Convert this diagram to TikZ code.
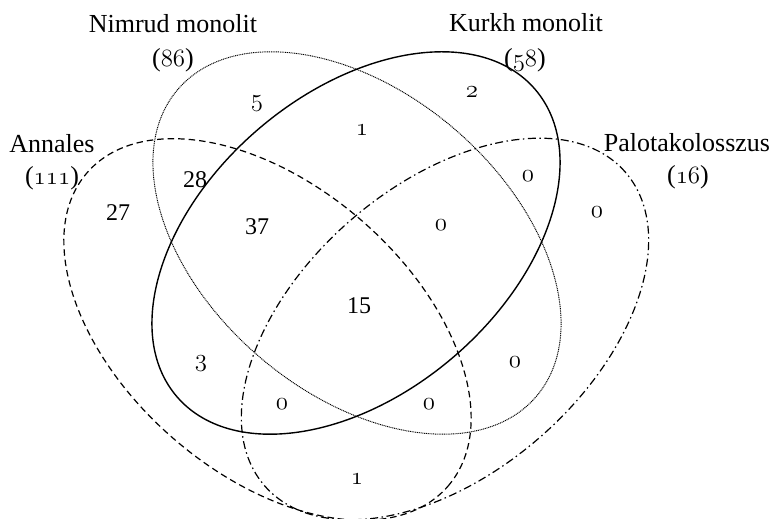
\documentclass[tikz,border=0pt]{standalone}
\usepackage{fontspec}
\setmainfont{Liberation Serif}
% old-style figures taken from the Latin Modern math italic font, slightly enlarged
\newcommand\osf[1]{{\fontsize{1.15\dimexpr\csname f@size\endcsname pt\relax}{10}\usefont{OML}{lmm}{m}{it}#1}}
\newcommand\osfb[1]{{\fontsize{1.1\dimexpr\csname f@size\endcsname pt\relax}{10}\usefont{OML}{lmm}{b}{it}#1}}
\begin{document}
\begin{tikzpicture}[x=1pt,y=1pt,
  setline/.style={line width=1.2pt},
  nimrud/.style={line width=0.95pt, dash pattern=on 1pt off 0.8pt},
  kurkh/.style={line width=1.4pt},
  annales/.style={setline, dash pattern=on 6.5pt off 4pt},
  palota/.style={setline, dash pattern=on 8pt off 3.5pt on 1.5pt off 3.5pt},
  lbl/.style={font=\fontsize{26}{30}\selectfont, inner sep=0pt, anchor=base},
  num/.style={font=\fontsize{24}{28}\selectfont, inner sep=0pt}]
\useasboundingbox (0,0) rectangle (769,519);
\clip (0,0) rectangle (769,519);

% the four sets
\draw[annales, rotate around={-41:(267.5,189.5)}] (267.5,189.5) ellipse [x radius=239, y radius=144];
\draw[palota,  rotate around={41:(445,190)}]      (445,190)     ellipse [x radius=239, y radius=144];
\draw[nimrud,  rotate around={-40.6:(357,276)}]   (357,276)     ellipse [x radius=236, y radius=150];
\draw[kurkh,   rotate around={40.6:(356,276)}]    (356,276)     ellipse [x radius=236, y radius=150];

% set names and sizes
\node[lbl] (nimrudname) at (173,486) {Nimrud monolit};
\node[lbl] (nimrudsize) at (173,452) {(\osf{86})};
\node[lbl] (kurkhname)  at (526,487) {Kurkh monolit};
\node[lbl] (kurkhsize)  at (525,452) {(\osf{58})};
\node[lbl] (annname)    at (52,366)  {Annales};
\node[lbl] (annsize)    at (52,334)  {(\osf{111})};
\node[lbl] (palname)    at (687,367) {Palotakolosszus};
\node[lbl] (palsize)    at (688,335) {(\osf{16})};

% region counts
\node[num] (r5)   at (257,415) {\osfb{5}};
\node[num] (r1a)  at (362,389) {\osfb{1}};
\node[num] (r2)   at (472,427) {\osfb{2}};
\node[num] (r28)  at (195,339) {28};
\node[num] (r27)  at (118,306) {27};
\node[num] (r37)  at (257,292) {37};
\node[num] (r0a)  at (528,343) {\osfb{0}};
\node[num] (r0b)  at (597,307) {\osfb{0}};
\node[num] (r0c)  at (441,294) {\osfb{0}};
\node[num] (r15)  at (359,213) {15};
\node[num] (r3)   at (201,155) {\osfb{3}};
\node[num] (r0d)  at (282,115) {\osfb{0}};
\node[num] (r0e)  at (429,115) {\osfb{0}};
\node[num] (r0f)  at (515,157) {\osfb{0}};
\node[num] (r1b)  at (357,40)  {\osfb{1}};
\end{tikzpicture}
\end{document}
